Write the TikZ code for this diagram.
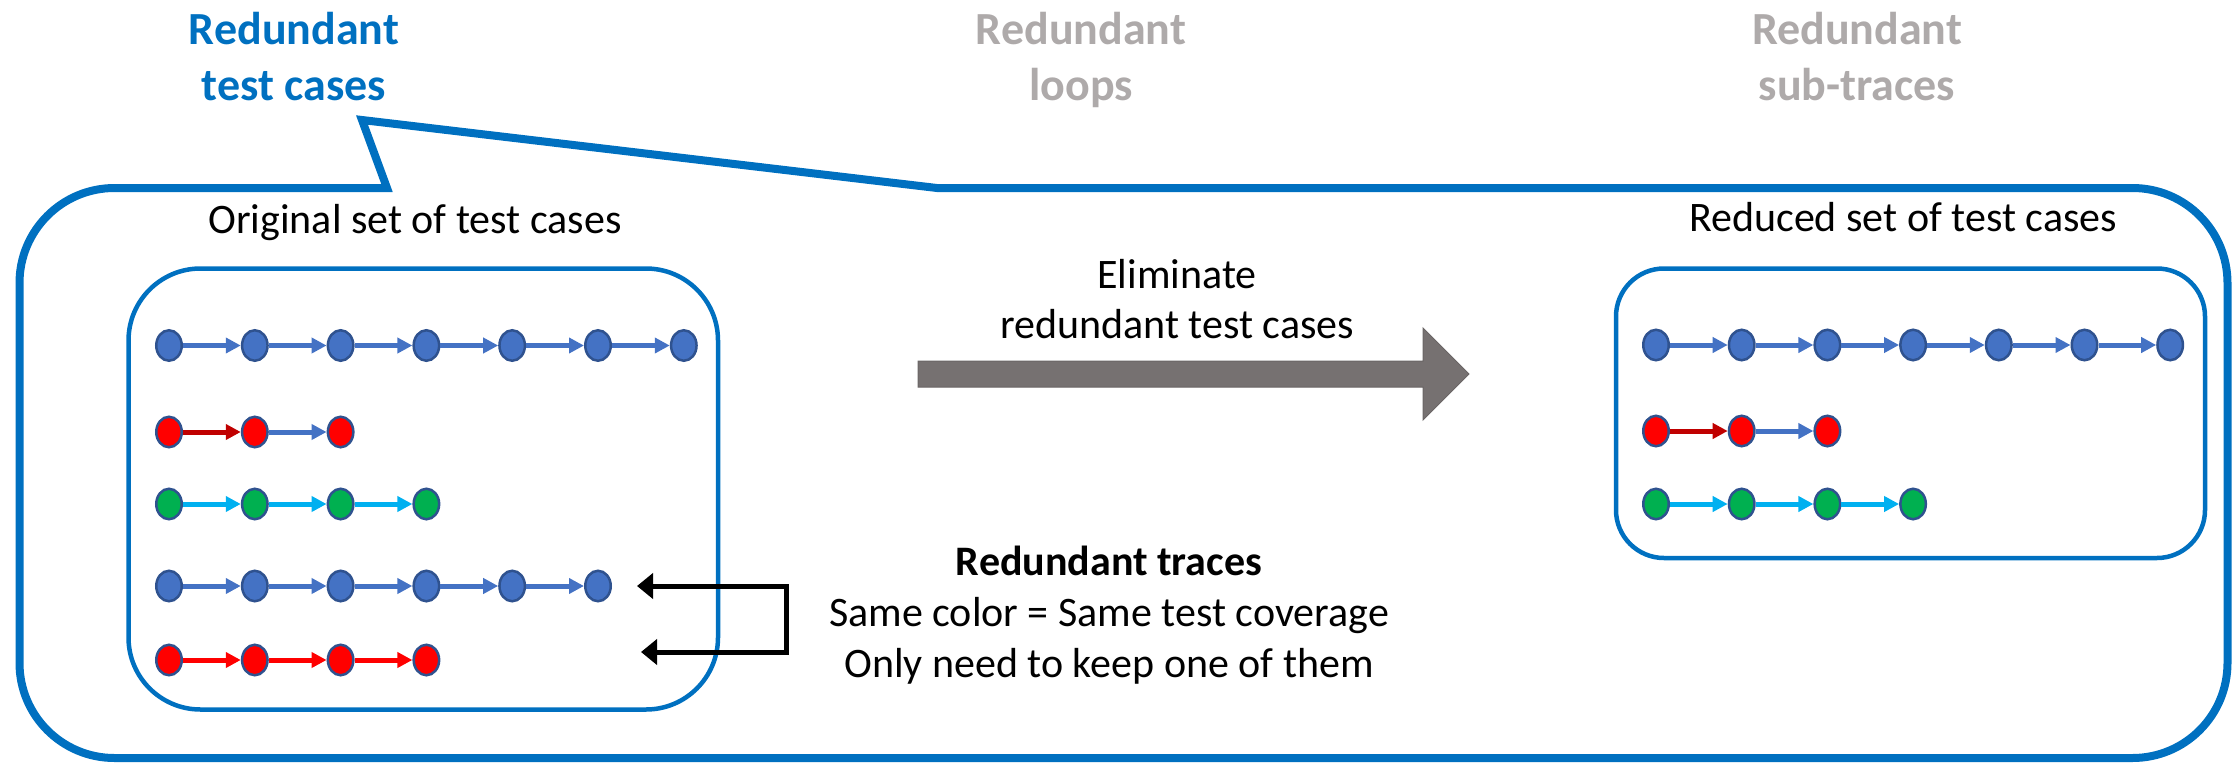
\documentclass[tikz,border=0pt]{standalone}
\usepackage{fontspec}
\setmainfont{Carlito}
\usetikzlibrary{arrows.meta,shapes.geometric}

\definecolor{calloutblue}{HTML}{0070C0}
\definecolor{nodeblue}{HTML}{4472C4}
\definecolor{nodeedge}{HTML}{2F528F}
\definecolor{nodered}{HTML}{FF0000}
\definecolor{nodegreen}{HTML}{00B050}
\definecolor{darkred}{HTML}{C00000}
\definecolor{skyblue}{HTML}{00B0F0}
\definecolor{headgray}{HTML}{AEAAAA}
\definecolor{arrowgray}{HTML}{767171}
\definecolor{arrowedge}{HTML}{6A6565}

\tikzset{
  state/.style={ellipse, draw=nodeedge, line width=2.5pt,
    minimum width=25.5pt, minimum height=30.5pt, inner sep=0pt},
  bluestate/.style={state, fill=nodeblue},
  redstate/.style={state, fill=nodered},
  greenstate/.style={state, fill=nodegreen},
  flow/.style={line width=5pt, -{Triangle[length=15pt,width=15pt]}},
  pointer/.style={line width=5pt, -{Triangle[length=16pt,width=25pt]}},
  setbox/.style={draw=calloutblue, line width=4.5pt, inner sep=0pt, outer sep=0pt},
  bodytext/.style={font=\fontsize{42pt}{50pt}\selectfont, align=center, anchor=base, inner sep=0pt},
  headtext/.style={font=\bfseries\fontsize{46pt}{56pt}\selectfont, align=center, anchor=base, inner sep=0pt},
}

\begin{document}
\begin{tikzpicture}[x=1pt, y=-1pt, line join=miter]
\useasboundingbox (0,0) rectangle (2239,763);

% section headings (anchored on the baseline of their last line)
\node[headtext, text=calloutblue] (hcases) at (294,100) {Redundant\\test cases};
\node[headtext, text=headgray] (hloops) at (1081,100) {Redundant\\loops};
\node[headtext, text=headgray] (hsub) at (1857,100) {Redundant\\sub-traces};

% callout frame with its pointer towards the active heading
\draw[calloutblue, line width=8pt]
  (937,188) -- (2132.5,188)
  .. controls (2185,188) and (2227.5,230.5) .. (2227.5,283)
  -- (2227.5,663)
  .. controls (2227.5,715.5) and (2185,758) .. (2132.5,758)
  -- (114.5,758)
  .. controls (62,758) and (19.5,715.5) .. (19.5,663)
  -- (19.5,283)
  .. controls (19.5,230.5) and (62,188) .. (114.5,188)
  -- (387,188) -- (362,120) -- cycle;

% captions of the two sets
\node[bodytext] (origlabel) at (415,233) {Original set of test cases};
\node[bodytext] (redlabel) at (1903,231) {Reduced set of test cases};

% the two sets of traces
\node[setbox, rounded corners=72pt, minimum width=589.5pt, minimum height=441pt] (origbox) at (423.25,489) {};
\node[setbox, rounded corners=48pt, minimum width=589pt, minimum height=289.5pt] (redbox) at (1910.5,413.25) {};

% original set, trace 1
\foreach \i in {1,...,7} \node[bluestate] (a\i) at ({169+85.8*(\i-1)},345.5) {};
\foreach \i [count=\j from 2] in {1,...,6} \draw[flow, nodeblue] (a\i) -- (a\j);
% trace 2
\foreach \i in {1,...,3} \node[redstate] (b\i) at ({169+85.8*(\i-1)},432) {};
\draw[flow, darkred] (b1) -- (b2);
\draw[flow, nodeblue] (b2) -- (b3);
% trace 3
\foreach \i in {1,...,4} \node[greenstate] (c\i) at ({169+85.8*(\i-1)},504) {};
\foreach \i [count=\j from 2] in {1,...,3} \draw[flow, skyblue] (c\i) -- (c\j);
% trace 4
\foreach \i in {1,...,6} \node[bluestate] (d\i) at ({169+85.8*(\i-1)},586) {};
\foreach \i [count=\j from 2] in {1,...,5} \draw[flow, nodeblue] (d\i) -- (d\j);
% trace 5
\foreach \i in {1,...,4} \node[redstate] (e\i) at ({169+85.8*(\i-1)},660) {};
\foreach \i [count=\j from 2] in {1,...,3} \draw[flow, nodered] (e\i) -- (e\j);

% reduced set
\foreach \i in {1,...,7} \node[bluestate] (f\i) at ({1656+85.7*(\i-1)},345) {};
\foreach \i [count=\j from 2] in {1,...,6} \draw[flow, nodeblue] (f\i) -- (f\j);
\foreach \i in {1,...,3} \node[redstate] (g\i) at ({1656+85.7*(\i-1)},431) {};
\draw[flow, darkred] (g1) -- (g2);
\draw[flow, nodeblue] (g2) -- (g3);
\foreach \i in {1,...,4} \node[greenstate] (h\i) at ({1656+85.7*(\i-1)},504) {};
\foreach \i [count=\j from 2] in {1,...,3} \draw[flow, skyblue] (h\i) -- (h\j);

% bracket marking the redundant traces
\coordinate (brtop) at (786,586);
\coordinate (brbot) at (786,652);
\coordinate (tiptop) at (637,586);
\coordinate (tipbot) at (641,652);
\draw[line width=5pt, line cap=rect] (brtop) -- (brbot);
\draw[pointer] (brtop) -- (tiptop);
\draw[pointer] (brbot) -- (tipbot);

\node[bodytext, font=\fontsize{42pt}{51pt}\selectfont] (note) at (1109,677)
  {\textbf{Redundant traces}\\Same color = Same test coverage\\Only need to keep one of them};

% reduction step
\draw[fill=arrowgray, draw=arrowedge, line width=1pt, line join=miter]
  (918,361) -- (1423,361) -- (1423,328) -- (1469,374) -- (1423,420) -- (1423,387) -- (918,387) -- cycle;
\node[bodytext] (steplabel) at (1177,338) {Eliminate\\redundant test cases};
\end{tikzpicture}
\end{document}
